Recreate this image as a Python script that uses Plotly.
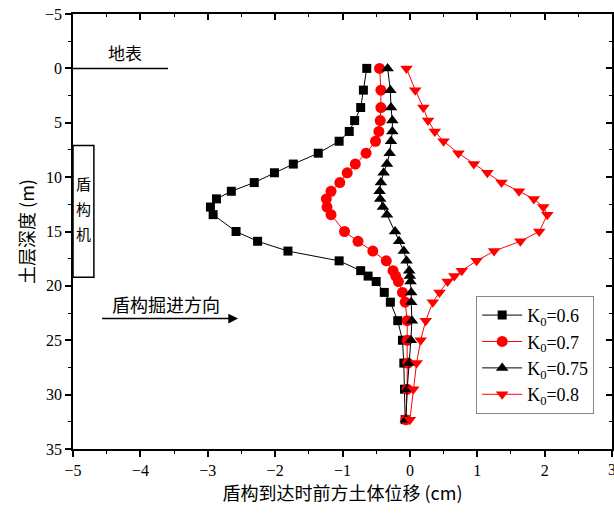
import plotly.graph_objects as go

depth = [0, 2, 3.6, 4.8, 5.8, 6.7, 7.8, 8.8, 9.6, 10.5, 11.3, 12.0, 12.75, 13.45,
         15.0, 15.9, 16.8, 17.7, 18.6, 19.1, 19.6, 20.6, 21.5, 23.2, 25.0, 27.1, 29.5, 32.3]

k060 = [-0.64, -0.69, -0.73, -0.82, -0.90, -1.05, -1.36, -1.73, -2.01, -2.31, -2.65, -2.87, -2.96, -2.92,
        -2.58, -2.26, -1.81, -1.05, -0.73, -0.62, -0.50, -0.38, -0.29, -0.18, -0.11, -0.09, -0.08, -0.07]
k070 = [-0.45, -0.43, -0.43, -0.44, -0.46, -0.51, -0.65, -0.81, -0.93, -1.04, -1.17, -1.24, -1.23, -1.17,
        -0.97, -0.77, -0.55, -0.35, -0.25, -0.21, -0.17, -0.11, -0.07, -0.04, -0.04, -0.03, -0.04, -0.06]
k075 = [-0.33, -0.29, -0.28, -0.26, -0.26, -0.28, -0.30, -0.34, -0.39, -0.43, -0.45, -0.44, -0.40, -0.34,
        -0.22, -0.16, -0.09, -0.05, -0.01, 0.0, 0.01, 0.02, 0.02, 0.03, 0.015, -0.01, -0.04, -0.06]
k080 = [-0.05, 0.08, 0.20, 0.27, 0.37, 0.50, 0.72, 0.95, 1.15, 1.36, 1.62, 1.84, 1.98, 2.04,
        1.92, 1.64, 1.25, 0.99, 0.77, 0.66, 0.56, 0.44, 0.34, 0.235, 0.16, 0.10, 0.05, 0.0]

names = ["K<sub>0</sub>=0.6", "K<sub>0</sub>=0.7", "K<sub>0</sub>=0.75", "K<sub>0</sub>=0.8"]
series = [k060, k070, k075, k080]
colors = ["black", "red", "black", "red"]
symbols = ["square", "circle", "triangle-up", "triangle-down"]
sizes = [9, 11, 11, 11]

fig = go.Figure()
for n, s, c, sym, sz in zip(names, series, colors, symbols, sizes):
    fig.add_trace(go.Scatter(
        x=s, y=depth, mode="lines+markers", name=n,
        line=dict(color=c, width=1),
        marker=dict(symbol=sym, size=sz, color=c),
    ))

# invisible trace on mirror axes
fig.add_trace(go.Scatter(x=[0], y=[0], xaxis="x2", yaxis="y2", mode="markers",
                         marker=dict(opacity=0), showlegend=False, hoverinfo="skip"))

num_font = dict(family="Liberation Serif, serif", size=16, color="black")
cjk = "Noto Sans CJK SC"

fig.update_layout(
    width=614, height=515,
    margin=dict(l=73, r=2, t=14, b=66),
    plot_bgcolor="white", paper_bgcolor="white",
    showlegend=True,
    legend=dict(x=0.748, y=0.352, xanchor="left", yanchor="top",
                bordercolor="#888888", borderwidth=1, bgcolor="white",
                font=dict(family="Liberation Serif, serif", size=18, color="black"),
                tracegroupgap=0, itemwidth=40),
    xaxis=dict(range=[-5, 3], dtick=1, showgrid=False, zeroline=False,
               showline=True, linecolor="black", linewidth=1.5,
               ticks="outside", ticklen=6, tickwidth=1.5, tickcolor="black",
               minor=dict(dtick=0.5, ticks="outside", ticklen=3, tickcolor="black", tickwidth=1),
               tickfont=num_font,
               title=dict(text="盾构到达时前方土体位移 (cm)", font=dict(family=cjk, size=18, color="black"), standoff=8)),
    yaxis=dict(range=[35, -5], dtick=5, showgrid=False, zeroline=False,
               showline=True, linecolor="black", linewidth=1.5,
               ticks="outside", ticklen=6, tickwidth=1.5, tickcolor="black",
               minor=dict(dtick=2.5, ticks="outside", ticklen=3, tickcolor="black", tickwidth=1),
               tickfont=num_font,
               title=dict(text="土层深度 (m)", font=dict(family=cjk, size=18, color="black"), standoff=6)),
    xaxis2=dict(overlaying="x", matches="x", side="top", showticklabels=False,
                showgrid=False, zeroline=False, showline=True, linecolor="black", linewidth=1.5,
                ticks="inside", ticklen=6, tickwidth=1.5, tickcolor="black", dtick=1,
                minor=dict(dtick=0.5, ticks="inside", ticklen=3, tickcolor="black", tickwidth=1)),
    yaxis2=dict(overlaying="y", matches="y", side="right", showticklabels=False,
                showgrid=False, zeroline=False, showline=True, linecolor="black", linewidth=1.5,
                ticks="inside", ticklen=6, tickwidth=1.5, tickcolor="black", dtick=5,
                minor=dict(dtick=2.5, ticks="inside", ticklen=3, tickcolor="black", tickwidth=1)),
)

# last x tick label, partly cut by the page edge as in the reference
fig.add_annotation(x=3, y=0, xref="x", yref="paper", yanchor="top", yshift=-10,
                   text="3", showarrow=False, font=num_font)

# ground surface line and label
fig.add_shape(type="line", x0=-5, x1=-3.59, y0=0, y1=0, xref="x", yref="y",
              line=dict(color="black", width=1.5))
fig.add_annotation(x=-4.23, y=-1.45, text="地表", showarrow=False,
                   font=dict(family=cjk, size=17, color="black"))

# shield machine box
fig.add_shape(type="rect", x0=-5, x1=-4.69, y0=7.1, y1=19.2, xref="x", yref="y",
              line=dict(color="black", width=1.5))
for ch, yy in zip(["盾", "构", "机"], [10.6, 12.9, 15.2]):
    fig.add_annotation(x=-4.845, y=yy, text=ch, showarrow=False,
                       font=dict(family=cjk, size=15, color="black"))

# direction arrow
fig.add_annotation(x=-3.62, y=21.7, text="盾构掘进方向", showarrow=False,
                   font=dict(family=cjk, size=18, color="black"))
fig.add_annotation(x=-2.55, y=23.0, ax=-4.59, ay=23.0, xref="x", yref="y",
                   axref="x", ayref="y", text="", showarrow=True,
                   arrowhead=2, arrowsize=1.3, arrowwidth=1.5, arrowcolor="black")

fig.write_html("out.html")
